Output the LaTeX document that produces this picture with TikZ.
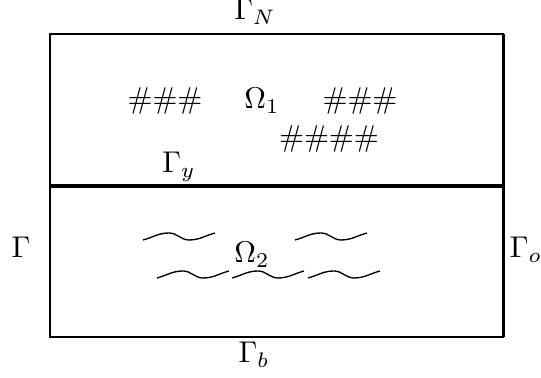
\documentclass[tikz,border=0pt]{standalone}
\usepackage{amsmath,amssymb}
\usepackage{tikz}
\usetikzlibrary{positioning,calc}

\begin{document}
\begin{tikzpicture}[
    x=0.01172cm, y=0.01172cm,
    edge/.style={line width=0.7pt},
    lbl/.style={anchor=base, inner sep=0pt},
    wave/.style={line width=0.45pt},
]
\useasboundingbox (0,0) rectangle (541,378);
\draw[edge] (504,41) -- (50,41) -- (50,344) -- (504,344);
\draw[line width=1pt] (504,41) -- (504,344);
\draw[line width=1.2pt] (50,192) -- (504,192);

\node[lbl] (gammaN) at (255,358) {$\Gamma_N$};
\node[lbl] (gammaY) at (179,205) {$\Gamma_y$};
\node[lbl] (gammaB) at (254,15) {$\Gamma_b$};
\node[lbl] (gammaL) at (21,120) {$\Gamma$};
\node[lbl] (gammaO) at (526,120) {$\Gamma_o$};

\node[lbl] (omegaA) at (262,269) {$\Omega_1$};
\node[lbl] (omegaB) at (252,115) {$\Omega_2$};
\node[lbl] (hashL) at (165,269) {\#\#\#};
\node[lbl] (hashR) at (360,269) {\#\#\#};
\node[lbl] (hashM) at (329,231) {\#\#\#\#};

\foreach \x/\y in {143/138, 295/138, 157/100, 232/100, 308/100} {
    \draw[wave] (\x,\y) to[out=15,in=180] ++(26,7) to[out=0,in=180] ++(20,-7) to[out=0,in=195] ++(26,7);
}
\end{tikzpicture}
\end{document}
